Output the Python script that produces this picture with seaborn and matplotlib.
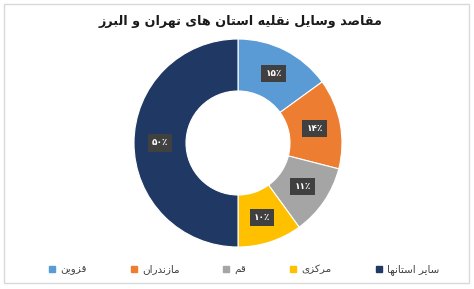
import matplotlib
matplotlib.use("Agg")
import matplotlib.pyplot as plt
from matplotlib.lines import Line2D
from matplotlib.patches import Rectangle
import seaborn as sns

# داده‌ها
title = "مقاصد وسایل نقلیه استان های تهران و البرز"
categories = ["قزوین", "مازندران", "قم", "مرکزی", "سایر استانها"]
values = [15, 14, 11, 10, 50]
colors = ["#5B9BD5", "#ED7D31", "#A5A5A5", "#FFC000", "#203864"]

# شکل‌های نمایشی حروف: (منفرد، پایانی، آغازی، میانی)
FORMS = {
    "ا": ("\uFE8D", "\uFE8E", None, None),
    "ب": ("\uFE8F", "\uFE90", "\uFE91", "\uFE92"),
    "ت": ("\uFE95", "\uFE96", "\uFE97", "\uFE98"),
    "د": ("\uFEA9", "\uFEAA", None, None),
    "ر": ("\uFEAD", "\uFEAE", None, None),
    "ز": ("\uFEAF", "\uFEB0", None, None),
    "س": ("\uFEB1", "\uFEB2", "\uFEB3", "\uFEB4"),
    "ص": ("\uFEB9", "\uFEBA", "\uFEBB", "\uFEBC"),
    "ق": ("\uFED5", "\uFED6", "\uFED7", "\uFED8"),
    "ک": ("\uFB8E", "\uFB8F", "\uFB90", "\uFB91"),
    "ل": ("\uFEDD", "\uFEDE", "\uFEDF", "\uFEE0"),
    "م": ("\uFEE1", "\uFEE2", "\uFEE3", "\uFEE4"),
    "ن": ("\uFEE5", "\uFEE6", "\uFEE7", "\uFEE8"),
    "ه": ("\uFEE9", "\uFEEA", "\uFEEB", "\uFEEC"),
    "و": ("\uFEED", "\uFEEE", None, None),
    "ی": ("\uFEEF", "\uFEF0", "\uFEF3", "\uFEF4"),
}


def dual(ch):
    return ch in FORMS and FORMS[ch][2] is not None


def fa(text):
    """اتصال حروف و راست به چپ کردن متن فارسی برای matplotlib"""
    out = []
    for i, ch in enumerate(text):
        if ch not in FORMS:
            out.append(ch)
            continue
        prev = text[i - 1] if i > 0 else ""
        nxt = text[i + 1] if i + 1 < len(text) else ""
        p = dual(prev)
        n = dual(ch) and nxt in FORMS
        iso, fin, ini, med = FORMS[ch]
        if p and n:
            out.append(med)
        elif p:
            out.append(fin)
        elif n:
            out.append(ini)
        else:
            out.append(iso)
    return "".join(out)[::-1]


def fa_digits(n):
    return str(n).translate(str.maketrans("0123456789", "۰۱۲۳۴۵۶۷۸۹"))


sns.set_theme(style="white")
plt.rcParams["font.family"] = ["DejaVu Sans"]

fig = plt.figure(figsize=(4.74, 2.89), dpi=100)
fig.patch.set_facecolor("white")
fig.patches.append(Rectangle((3.5 / 474, 6 / 289), 465.5 / 474, 279.5 / 289,
                             transform=fig.transFigure, fill=False,
                             edgecolor="#D9D9D9", linewidth=1))

ax = fig.add_axes([108 / 474, 16 / 289, 260 / 474, 260 / 289])
wedges, texts, autotexts = ax.pie(
    values,
    colors=colors,
    startangle=90,
    counterclock=False,
    autopct=lambda p: fa_digits(int(round(p))) + "٪",
    pctdistance=0.75,
    wedgeprops=dict(width=0.5, edgecolor="white", linewidth=0.8),
)
for t in autotexts:
    t.set_color("white")
    t.set_fontsize(6.5)
    t.set_fontweight("bold")
    t.set_bbox(dict(boxstyle="square,pad=0.45", facecolor="#404040", edgecolor="none"))

fig.text(240 / 474, 1 - 22 / 289, fa(title), ha="center", va="center",
         fontsize=9.2, fontweight="bold", color="#1A1A1A")

handles = [Line2D([], [], marker="s", linestyle="none", markersize=4,
                  markerfacecolor=c, markeredgecolor=c) for c in colors]
fig.legend(handles, [fa(c) for c in categories], ncol=5, loc="center",
           bbox_to_anchor=(244 / 474, 1 - 270 / 289), frameon=False,
           fontsize=7.5, handlelength=0.6, handletextpad=0.5,
           columnspacing=4.2, labelcolor="#404040")

fig.savefig("out.png", dpi=100)
